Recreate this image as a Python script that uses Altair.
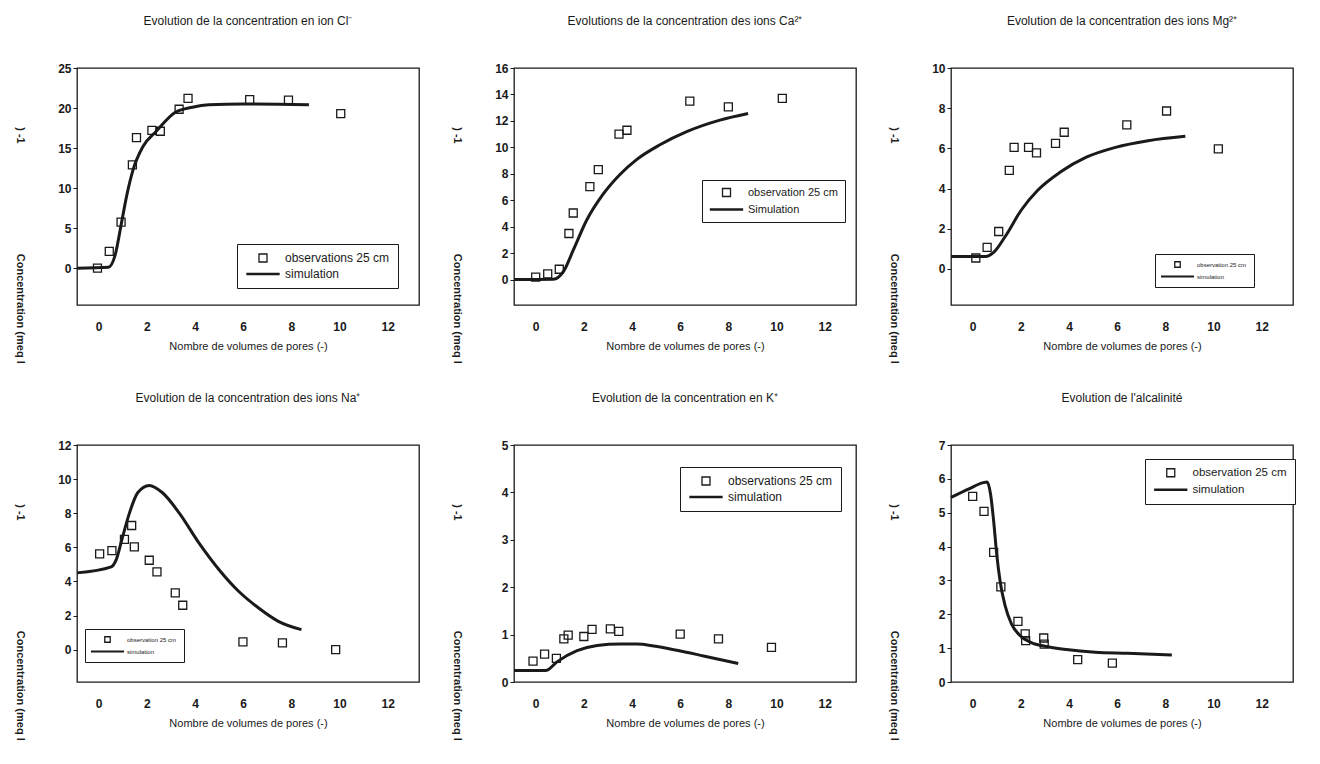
import altair as alt
import pandas as pd

INK = "#1a1a1a"
FONT = "Liberation Sans"
X_TICKS = [0, 2, 4, 6, 8, 10, 12]
X_DOMAIN = [-0.9, 13.3]
X_TITLE = "Nombre de volumes de pores (-)"
Y_TITLE = ")\u00a0-1" + "\u00a0" * 36 + "Concentration (meq l"

# ---- Cl- ----
cl_obs_x = [-0.05, 0.44, 0.93, 1.4, 1.57, 2.21, 2.56, 3.34, 3.71, 6.27, 7.88, 10.05]
cl_obs_y = [0.0, 2.1, 5.75, 12.9, 16.3, 17.2, 17.1, 19.85, 21.2, 21.05, 21.0, 19.3]
cl_sim_x = [-0.9, 0.4, 0.68, 0.95, 1.16, 1.43, 1.84, 2.39, 3.2, 3.89, 4.57, 6.0, 8.73]
cl_sim_y = [0.0, 0.1, 1.6, 5.7, 9.0, 12.3, 15.2, 17.1, 19.5, 20.1, 20.4, 20.5, 20.4]

# ---- Ca2+ ----
ca_obs_x = [0.0, 0.5, 0.98, 1.38, 1.56, 2.25, 2.6, 3.46, 3.79, 6.4, 8.0, 10.24]
ca_obs_y = [0.2, 0.45, 0.8, 3.5, 5.05, 7.04, 8.33, 11.0, 11.3, 13.5, 13.06, 13.7]
ca_sim_x = [-0.9, 0.73, 1.15, 1.56, 2.11, 2.8, 3.5, 4.19, 5.16, 6.27, 7.65, 8.82]
ca_sim_y = [0.02, 0.05, 0.62, 2.24, 4.48, 6.47, 7.96, 9.08, 10.2, 11.19, 12.06, 12.56]

# ---- Mg2+ ----
mg_obs_x = [0.13, 0.6, 1.08, 1.52, 1.72, 2.32, 2.65, 3.44, 3.8, 6.4, 8.05, 10.2]
mg_obs_y = [0.54, 1.07, 1.86, 4.9, 6.05, 6.05, 5.77, 6.25, 6.8, 7.17, 7.86, 5.97]
mg_sim_x = [-0.9, 0.54, 0.87, 1.35, 2.02, 2.7, 3.64, 4.72, 5.93, 7.28, 8.83]
mg_sim_y = [0.62, 0.62, 0.82, 1.61, 2.93, 3.91, 4.82, 5.56, 6.05, 6.38, 6.6]

# ---- Na+ ----
na_obs_x = [0.04, 0.55, 1.07, 1.37, 1.48, 2.1, 2.42, 3.18, 3.49, 5.99, 7.63, 9.84]
na_obs_y = [5.62, 5.81, 6.46, 7.28, 6.03, 5.24, 4.56, 3.33, 2.6, 0.45, 0.39, 0.0]
na_sim_x = [-0.9, 0.52, 0.73, 1.0, 1.28, 1.62, 2.1, 2.65, 3.34, 4.16, 4.99, 5.81, 6.64, 7.46, 8.42]
na_sim_y = [4.5, 4.85, 5.28, 6.65, 8.02, 9.2, 9.63, 9.2, 8.02, 6.26, 4.7, 3.42, 2.44, 1.66, 1.17]

# ---- K+ ----
k_obs_x = [-0.11, 0.37, 0.86, 1.17, 1.35, 2.0, 2.34, 3.1, 3.45, 6.0, 7.59, 9.79]
k_obs_y = [0.44, 0.59, 0.5, 0.91, 0.99, 0.96, 1.11, 1.12, 1.07, 1.01, 0.91, 0.73]
k_sim_x = [-0.9, 0.41, 0.9, 1.72, 2.55, 3.52, 4.2, 4.9, 5.86, 6.97, 8.41]
k_sim_y = [0.24, 0.24, 0.43, 0.66, 0.77, 0.8, 0.8, 0.76, 0.67, 0.55, 0.39]

# ---- Alcalinite ----
alk_obs_x = [0.0, 0.47, 0.87, 1.17, 1.88, 2.18, 2.2, 2.95, 2.97, 4.36, 5.8]
alk_obs_y = [5.48, 5.04, 3.83, 2.81, 1.79, 1.42, 1.22, 1.3, 1.12, 0.66, 0.56]
alk_sim_x = [-0.9, -0.13, 0.4, 0.6, 0.74, 0.87, 1.0, 1.14, 1.34, 1.61, 1.94, 2.41, 3.08, 3.89, 5.09, 6.43, 8.27]
alk_sim_y = [5.45, 5.71, 5.88, 5.91, 5.56, 4.76, 3.76, 2.97, 2.27, 1.72, 1.39, 1.17, 1.05, 0.96, 0.88, 0.85, 0.8]


def line_symbol(half):
    return f"M{-half},-0.15H{half}V0.15H{-half}Z"


def panel(title, ox, oy, sx, sy, ymin, ymax, ystep, obs_label, sim_label,
          lx, ly, lfs, sym_size, half, lpad, loff):
    obs = pd.DataFrame({"x": ox, "y": oy, "series": obs_label})
    sim = pd.DataFrame({"x": sx, "y": sy})
    xs = alt.Scale(domain=X_DOMAIN, nice=False, zero=False)
    ys = alt.Scale(domain=[ymin, ymax], nice=False, zero=False)
    xaxis = alt.Axis(values=X_TICKS, title=X_TITLE, ticks=False, domain=False, grid=False,
                     labelPadding=16, labelFont=FONT, labelFontSize=12, labelFontWeight="bold",
                     labelColor=INK, titleFont=FONT, titleFontSize=11, titleFontWeight="normal",
                     titleColor=INK, titlePadding=8)
    yaxis = alt.Axis(values=list(range(0, ymax + 1, ystep)), title=Y_TITLE, grid=False, domain=False,
                     tickSize=4, tickColor=INK, labelPadding=2, labelFont=FONT, labelFontSize=12,
                     labelFontWeight="bold", labelColor=INK, titleFont=FONT, titleFontSize=11,
                     titleFontWeight="bold", titleColor=INK, titleAngle=90, titleX=-58, titleY=177,
                     titleAlign="center", titleBaseline="middle")
    line = alt.Chart(sim).mark_line(color=INK, strokeWidth=3, interpolate="monotone").encode(
        x=alt.X("x:Q", scale=xs, axis=xaxis),
        y=alt.Y("y:Q", scale=ys, axis=yaxis),
    )
    pts = alt.Chart(obs).mark_point(filled=False, size=64, color=INK, strokeWidth=1.3, opacity=1).encode(
        x=alt.X("x:Q", scale=xs, axis=xaxis),
        y=alt.Y("y:Q", scale=ys, axis=yaxis),
        shape=alt.Shape("series:N",
                        scale=alt.Scale(domain=[obs_label, sim_label], range=["square", line_symbol(half)]),
                        legend=alt.Legend(title=None, orient="none", legendX=lx, legendY=ly,
                                          strokeColor=INK, fillColor="white", padding=lpad,
                                          labelFont=FONT, labelFontSize=lfs, labelColor=INK,
                                          symbolStrokeColor=INK, symbolStrokeWidth=1.3,
                                          symbolSize=sym_size, symbolOffset=loff, labelOffset=loff + 4,
                                          rowPadding=3)),
    )
    return alt.layer(line, pts).properties(
        width=342, height=237,
        title=alt.Title(title, font=FONT, fontSize=12, fontWeight="normal", color=INK, offset=34),
    )


p1 = panel("Evolution de la concentration en ion Cl\u207b", cl_obs_x, cl_obs_y, cl_sim_x, cl_sim_y,
           -4.6, 25, 5, "observations 25 cm", "simulation", 160, 176, 12, 64, 4, 8, 12)
p2 = panel("Evolutions de la concentration des ions Ca\u00b2\u207a", ca_obs_x, ca_obs_y, ca_sim_x, ca_sim_y,
           -1.9, 16, 2, "observation 25 cm", "Simulation", 188, 112, 11, 64, 4, 7, 12)
p3 = panel("Evolution de la concentration des ions Mg\u00b2\u207a", mg_obs_x, mg_obs_y, mg_sim_x, mg_sim_y,
           -1.8, 10, 2, "observation 25 cm", "simulation", 204, 186, 6, 30, 5.8, 7, 12)
p4 = panel("Evolution de la concentration des ions Na\u207a", na_obs_x, na_obs_y, na_sim_x, na_sim_y,
           -1.9, 12, 2, "observation 25 cm", "simulation", 8, 184, 6, 30, 5.8, 7, 12)
p5 = panel("Evolution de la concentration en K\u207a", k_obs_x, k_obs_y, k_sim_x, k_sim_y,
           0, 5, 1, "observations 25 cm", "simulation", 166, 22, 12, 64, 4, 8, 12)
p6 = panel("Evolution de l'alcalinit\u00e9", alk_obs_x, alk_obs_y, alk_sim_x, alk_sim_y,
           0, 7, 1, "observation 25 cm", "simulation", 194, 14, 11.5, 64, 4, 8, 12)

row1 = alt.hconcat(p1, p2, p3, spacing=30).resolve_scale(shape="independent").resolve_legend(shape="independent")
row2 = alt.hconcat(p4, p5, p6, spacing=30).resolve_scale(shape="independent").resolve_legend(shape="independent")

chart = alt.vconcat(row1, row2, spacing=27).resolve_scale(shape="independent").resolve_legend(
    shape="independent"
).properties(
    padding={"left": 5, "right": 2, "top": 6, "bottom": 5},
    background="white",
).configure_view(stroke=INK, strokeWidth=1.3)

chart.save("out.html", embed_options={"renderer": "svg", "actions": False})
